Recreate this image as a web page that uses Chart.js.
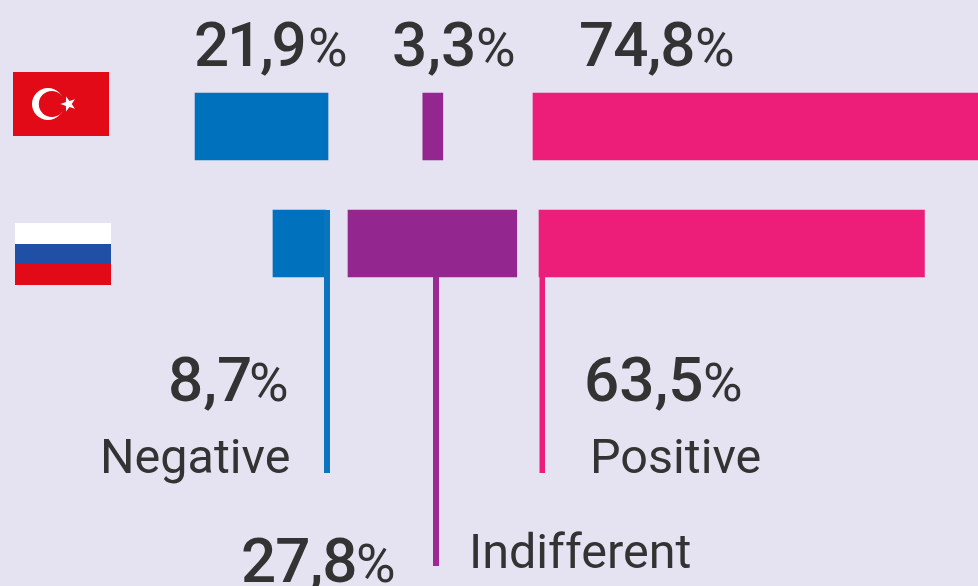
<!DOCTYPE html>
<html>
<head>
<meta charset="utf-8">
<style>
html,body{margin:0;padding:0;background:#e5e2f1;overflow:hidden}
canvas{display:block}
</style>
<script src="https://cdn.jsdelivr.net/npm/chart.js@4"></script>
</head>
<body>
<canvas id="c" width="978" height="586"></canvas>
<script>
// ---- data ----
const countries = ['Turkey', 'Russia'];
const seriesNames = ['Negative', 'Indifferent', 'Positive'];
const negative = [21.9, 8.7];
const indifferent = [3.3, 27.8];
const positive = [74.8, 63.5];

// ---- layout (pixels on the page) ----
const W = 978, H = 586;
const pxPerUnit = 6.07;
const negEnd = [328, 325.8];
const indStart = [422.8, 348];
const posStart = [533, 539];
const toUnit = px => px / pxPerUnit;

const fmt = v => v.toFixed(1).replace('.', ',');
const INK = '#333333';
const NUM_FONT = '500 62px Roboto';
const PCT_FONT = '400 54px Roboto';
const NAME_FONT = '400 48.5px Roboto';

const valueLabels = [
  {v: negative[0], x: 194, pct: 308, y: 66, ls: -2.3},
  {v: indifferent[0], x: 392, pct: 476, y: 66, ls: 0},
  {v: positive[0], x: 579, pct: 695, y: 66, ls: -1},
  {v: negative[1], x: 168, pct: 249, y: 401, ls: 0},
  {v: positive[1], x: 584, pct: 703, y: 401, ls: 0},
  {v: indifferent[1], x: 241, pct: 356, y: 582, ls: -1}
];
const nameLabels = [
  {t: seriesNames[0], x: 100, y: 473},
  {t: seriesNames[2], x: 590, y: 473},
  {t: seriesNames[1], x: 469, y: 568}
];
const leaders = [
  {c: '#0a75bd', x: 324, w: 6, y0: 210, y1: 473},
  {c: '#9b2a98', x: 433, w: 6, y0: 277, y1: 566},
  {c: '#ed1e79', x: 539.5, w: 5.5, y0: 277, y1: 473}
];

function turkeyFlag(ctx) {
  const red = '#e30a17';
  ctx.fillStyle = red;
  ctx.fillRect(13, 72, 96, 64);
  ctx.fillStyle = '#fff';
  ctx.beginPath(); ctx.arc(48, 104, 16, 0, Math.PI * 2); ctx.fill();
  ctx.fillStyle = red;
  ctx.beginPath(); ctx.arc(51.8, 104, 13, 0, Math.PI * 2); ctx.fill();
  ctx.fillStyle = '#fff';
  ctx.beginPath();
  for (let i = 0; i < 10; i++) {
    const r = i % 2 ? 3.2 : 8;
    const a = Math.PI + i * Math.PI / 5;
    const px = 68.5 + r * Math.cos(a), py = 104 + r * Math.sin(a);
    i ? ctx.lineTo(px, py) : ctx.moveTo(px, py);
  }
  ctx.closePath(); ctx.fill();
}
function russiaFlag(ctx) {
  ctx.fillStyle = '#ffffff'; ctx.fillRect(15, 223, 96, 21);
  ctx.fillStyle = '#1f50a5'; ctx.fillRect(15, 244, 96, 20);
  ctx.fillStyle = '#e30a17'; ctx.fillRect(15, 264, 96, 21);
}

const decorations = {
  id: 'decorations',
  beforeDatasetsDraw(chart) {
    const ctx = chart.ctx;
    ctx.save();
    ctx.fillStyle = '#e5e2f1';
    ctx.fillRect(0, 0, W, H);
    turkeyFlag(ctx);
    russiaFlag(ctx);
    ctx.restore();
  },
  afterDatasetsDraw(chart) {
    const ctx = chart.ctx;
    ctx.save();
    leaders.forEach(l => {
      ctx.fillStyle = l.c;
      ctx.fillRect(l.x, l.y0, l.w, l.y1 - l.y0);
    });
    ctx.textAlign = 'left';
    ctx.textBaseline = 'alphabetic';
    ctx.fillStyle = INK;
    valueLabels.forEach(l => {
      ctx.font = NUM_FONT;
      ctx.letterSpacing = l.ls + 'px';
      ctx.fillText(fmt(l.v), l.x, l.y);
      ctx.letterSpacing = '0px';
      ctx.font = PCT_FONT;
      ctx.fillText('%', l.pct, l.y);
    });
    ctx.font = NAME_FONT;
    nameLabels.forEach(l => ctx.fillText(l.t, l.x, l.y));
    ctx.restore();
  }
};

const barDefaults = {barThickness: 67, grouped: false, borderWidth: 0, borderSkipped: false};

function draw() {
  new Chart(document.getElementById('c'), {
    type: 'bar',
    data: {
      labels: countries,
      datasets: [
        {label: seriesNames[0], backgroundColor: '#0071bc', ...barDefaults,
         data: negative.map((v, i) => [toUnit(negEnd[i]) - v, toUnit(negEnd[i])])},
        {label: seriesNames[1], backgroundColor: '#93278f', ...barDefaults,
         data: indifferent.map((v, i) => [toUnit(indStart[i]), toUnit(indStart[i]) + v])},
        {label: seriesNames[2], backgroundColor: '#ed1e79', ...barDefaults,
         data: positive.map((v, i) => [toUnit(posStart[i]), toUnit(posStart[i]) + v])}
      ]
    },
    options: {
      indexAxis: 'y',
      responsive: false,
      animation: false,
      layout: {padding: {left: 0, right: 0, top: 68, bottom: H - 302}},
      plugins: {legend: {display: false}, tooltip: {enabled: false}, title: {display: false}},
      scales: {
        x: {type: 'linear', display: false, min: 0, max: W / pxPerUnit},
        y: {type: 'category', display: false}
      }
    },
    plugins: [decorations]
  });
}
const fontsReady = document.fonts && document.fonts.load
  ? Promise.all([document.fonts.load(NUM_FONT), document.fonts.load(PCT_FONT), document.fonts.load(NAME_FONT)])
  : Promise.resolve();
fontsReady.then(draw, draw);
</script>
</body>
</html>
